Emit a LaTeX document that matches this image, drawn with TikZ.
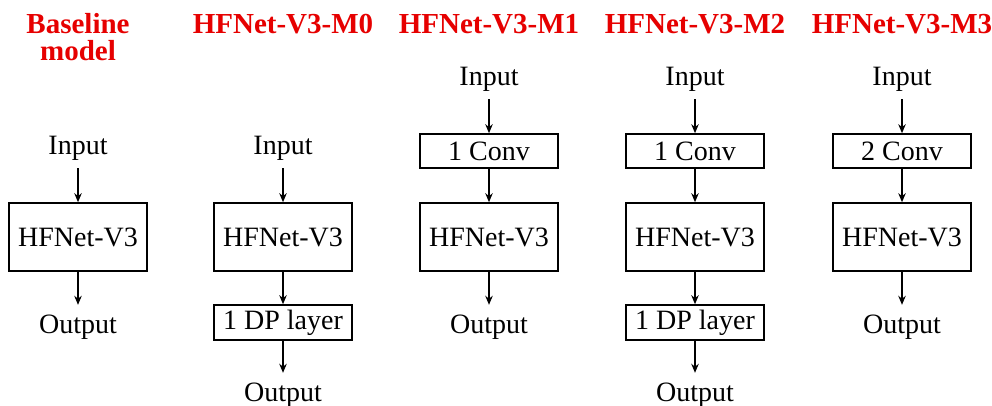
\documentclass[tikz,border=0pt]{standalone}
\usepackage{fontspec}
\setmainfont{Liberation Serif}
\usetikzlibrary{arrows.meta}
\definecolor{titlered}{RGB}{230,0,0}
\newcommand{\bigfs}{\fontsize{28}{27}\selectfont}
\newcommand{\titlefs}{\fontsize{29}{27}\selectfont}
\begin{document}
\begin{tikzpicture}[x=1pt,y=-1pt,
  titlebase/.style={anchor=north, inner sep=0pt, align=center,
    font=\titlefs\bfseries, text=titlered},
  title/.style={titlebase, text height=19pt},
  lbl/.style={anchor=base, inner sep=0pt, text height=19pt, text depth=7pt, font=\bigfs},
  box/.style={draw, line width=1.6pt, minimum width=138pt, inner sep=0pt, font=\bigfs},
  hbox/.style={box, minimum height=68pt},
  cbox/.style={box, minimum height=34pt},
  dbox/.style={box, minimum height=35pt},
  arr/.style={-{Stealth[length=9pt,width=7.5pt]}, line width=1.3pt},
  inarr/.style={arr, shorten <=6pt},
  outarr/.style={arr, shorten >=9pt}
]
\useasboundingbox (0,0) rectangle (992,406);

% titles
\node[titlebase] (t0) at (78,13.5) {Baseline\\model};
\node[title] (t1) at (283,14) {HFNet-V3-M0};
\node[title] (t2) at (489,14) {HFNet-V3-M1};
\node[title] (t3) at (695,14) {HFNet-V3-M2};
\node[title] (t4) at (902,14) {HFNet-V3-M3};

% Baseline
\node[lbl] (i0) at (78,155) {Input};
\node[hbox] (h0) at (78,237) {HFNet-V3};
\node[lbl] (o0) at (78,333) {Output};
\draw[inarr] (i0.south) -- (h0.north);
\draw[outarr] (h0.south) -- (o0.north);

% M0
\node[lbl] (i1) at (283,155) {Input};
\node[hbox] (h1) at (283,237) {HFNet-V3};
\node[dbox] (d1) at (283,322.5) {1 DP layer};
\node[lbl] (o1) at (283,401) {Output};
\draw[inarr] (i1.south) -- (h1.north);
\draw[arr] (h1.south) -- (d1.north);
\draw[outarr] (d1.south) -- (o1.north);

% M1
\node[lbl] (i2) at (489,86) {Input};
\node[cbox] (c2) at (489,151) {1 Conv};
\node[hbox] (h2) at (489,237) {HFNet-V3};
\node[lbl] (o2) at (489,333) {Output};
\draw[inarr] (i2.south) -- (c2.north);
\draw[arr] (c2.south) -- (h2.north);
\draw[outarr] (h2.south) -- (o2.north);

% M2
\node[lbl] (i3) at (695,86) {Input};
\node[cbox] (c3) at (695,151) {1 Conv};
\node[hbox] (h3) at (695,237) {HFNet-V3};
\node[dbox] (d3) at (695,322.5) {1 DP layer};
\node[lbl] (o3) at (695,401) {Output};
\draw[inarr] (i3.south) -- (c3.north);
\draw[arr] (c3.south) -- (h3.north);
\draw[arr] (h3.south) -- (d3.north);
\draw[outarr] (d3.south) -- (o3.north);

% M3
\node[lbl] (i4) at (902,86) {Input};
\node[cbox] (c4) at (902,151) {2 Conv};
\node[hbox] (h4) at (902,237) {HFNet-V3};
\node[lbl] (o4) at (902,333) {Output};
\draw[inarr] (i4.south) -- (c4.north);
\draw[arr] (c4.south) -- (h4.north);
\draw[outarr] (h4.south) -- (o4.north);
\end{tikzpicture}
\end{document}
